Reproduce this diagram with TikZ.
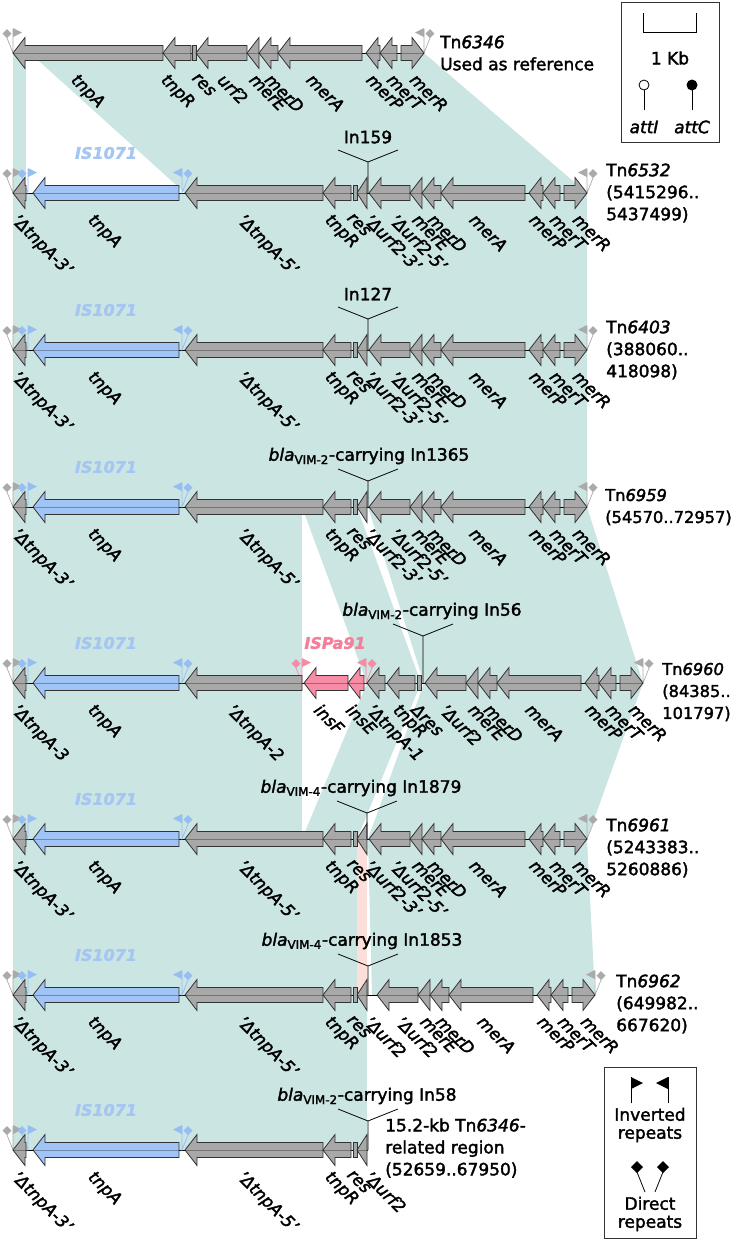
\documentclass[tikz,border=0pt]{standalone}
\usepackage{fontspec}
\setmainfont{DejaVu Sans}[FakeBold=2]
\usetikzlibrary{calc}

\definecolor{homol}{RGB}{203,229,227}
\definecolor{homolpink}{RGB}{252,222,218}
\definecolor{genegray}{RGB}{168,168,168}
\definecolor{geneblue}{RGB}{160,196,246}
\definecolor{genepink}{RGB}{246,140,166}
\definecolor{isblue}{RGB}{165,198,242}
\definecolor{ispink}{RGB}{242,128,155}
\definecolor{flaggray}{RGB}{170,170,170}
\definecolor{flagblue}{RGB}{150,190,242}
\definecolor{flagpink}{RGB}{244,140,165}

\tikzset{
  gene/.style={draw=black!80, line width=0.6pt},
  gray gene/.style={gene, fill=genegray},
  blue gene/.style={gene, fill=geneblue},
  pink gene/.style={gene, fill=genepink},
  midline/.style={black, opacity=0.3, line width=0.7pt},
  backbone/.style={black, line width=0.7pt},
  glab/.style={rotate=-45, anchor=north west, inner sep=0pt, font=\fontsize{12.5}{14}\selectfont\itshape},
  rlab/.style={anchor=west, align=left, inner sep=0pt, font=\fontsize{12.75}{16.5}\selectfont},
  inlab/.style={inner sep=0pt, align=center, font=\fontsize{12.75}{13.5}\selectfont},
  islab/.style={inner sep=0pt, font=\fontsize{12}{14}\selectfont\bfseries\itshape},
}

% [label shift] style, y, tail, tip, label
\newcommand{\gene}[6][0]{%
  \pgfmathsetmacro{\glen}{abs((#5)-(#4))}%
  \pgfmathsetmacro{\gneck}{(#5)-((#5)-(#4))/\glen*min(12,\glen)}%
  \draw[#2] ({#4},{#3-7.5}) -- (\gneck,{#3-7.5}) -- (\gneck,{#3-15.5}) -- ({#5},{#3})
    -- (\gneck,{#3+15.5}) -- (\gneck,{#3+7.5}) -- ({#4},{#3+7.5}) -- cycle;
  \draw[midline] ({#4},{#3}) -- ({#5},{#3});
  \node[glab] at ({((#4)+(#5))/2-4+(#1)},{#3+19}) {#6};
}
% [label shift] y, x, label
\newcommand{\resbox}[4][0]{%
  \draw[gray gene] ({#3-2},{#2-7.5}) rectangle ({#3+2},{#2+7.5});
  \node[glab] at ({#3-4+(#1)},{#2+19}) {#4};
}
% x, y, colour, 1 left end / -1 right end
\newcommand{\repflags}[4]{%
  \draw[#3, line width=0.5pt] ({#1},{#2-24}) -- ({#1},{#2}) -- ({#1-6*(#4)},{#2-15});
  \fill[#3] ({#1},{#2-25}) -- ({#1+9*(#4)},{#2-20.5}) -- ({#1},{#2-16}) -- cycle;
  \fill[#3] ({#1-6*(#4)},{#2-15}) -- ++(4.5,-4.5) -- ++(-4.5,-4.5) -- ++(-4.5,4.5) -- cycle;
}
% y, label of the short urf2 piece
\newcommand{\isrow}[2]{%
  \repflags{13}{#1}{flaggray}{1}
  \repflags{28}{#1}{flagblue}{1}
  \repflags{182}{#1}{flagblue}{-1}
  \gene[4]{gray gene}{#1}{26}{13}{'ΔtnpA-3'}
  \gene[-6]{blue gene}{#1}{179}{33}{tnpA}
  \gene[-5]{gray gene}{#1}{323}{185}{'ΔtnpA-5'}
  \gene{gray gene}{#1}{351}{323}{tnpR}
  \resbox[2]{#1}{355}{res}
  \gene[14]{gray gene}{#1}{367}{357}{#2}
  \node[islab, text=isblue] at (106,{#1-40}) {IS1071};
}
% y, shift
\newcommand{\merpart}[2]{%
  \gene[8]{gray gene}{#1}{422+(#2)}{410+(#2)}{merE}
  \gene[8]{gray gene}{#1}{441+(#2)}{422+(#2)}{merD}
  \gene[-2]{gray gene}{#1}{525+(#2)}{441+(#2)}{merA}
  \gene[5]{gray gene}{#1}{543+(#2)}{529+(#2)}{merP}
  \gene[10]{gray gene}{#1}{560+(#2)}{543+(#2)}{merT}
  \gene[9]{gray gene}{#1}{564+(#2)}{587+(#2)}{merR}
}
% name, x, y vertex, y row, label x, text
\newcommand{\integron}[6]{%
  \coordinate (#1v) at (#2,#3);
  \coordinate (#1b) at (#2,#4);
  \node[inlab] (#1) at ($(#5,#3)+(0,-25)$) {#6};
  \draw[line width=0.6pt] (#1b) -- (#1v) -- ++(-30,-12) (#1v) -- ++(30,-12);
}

\begin{document}
\begin{tikzpicture}[x=0.75pt,y=-0.75pt]
\useasboundingbox (0,0) rectangle (733,1240);

% 相同領域
\fill[homol] (13,53) -- (26,53) -- (26,193) -- (13,193) -- cycle;
\fill[homol] (30,53) -- (424,53) -- (587,193) -- (185,193) -- cycle;
\fill[homol] (13,193) rectangle (587,350);
\fill[homol] (13,350) rectangle (587,507);
\fill[homol] (13,507) rectangle (302,683);
\fill[homol] (302,507) -- (357,507) -- (421,683) -- (367,683) -- cycle;
\fill[homol] (368,507) -- (587,507) -- (643,683) -- (424,683) -- cycle;
\fill[homol] (13,683) rectangle (302,839);
\fill[homol] (367,683) -- (421,683) -- (357,839) -- (302,839) -- cycle;
\fill[homol] (424,683) -- (643,683) -- (587,839) -- (368,839) -- cycle;
\fill[homol] (13,839) rectangle (357,995);
\fill[homolpink] (357,839) rectangle (367,995);
\fill[homol] (368,839) -- (587,839) -- (595,995) -- (372,995) -- cycle;
\fill[homol] (13,995) rectangle (367,1150);

% Tn6346
\draw[backbone] (13,53) -- (424,53);
\repflags{13}{53}{flaggray}{1}
\repflags{424}{53}{flaggray}{-1}
\gene[-5]{gray gene}{53}{163}{13}{tnpA}
\gene[-4]{gray gene}{53}{191}{163}{tnpR}
\resbox[8]{53}{194}{res}
\gene[8]{gray gene}{53}{247}{196}{urf2}
\merpart{53}{-163}

% Tn6532, Tn6403, Tn6959, Tn6961
\foreach \y in {193,350,507,839}{
  \draw[backbone] (13,\y) -- (587,\y);
  \repflags{587}{\y}{flaggray}{-1}
  \isrow{\y}{'Δurf2-3'}
  \gene[12]{gray gene}{\y}{410}{369}{'Δurf2-5'}
  \merpart{\y}{0}
}

% Tn6960
\draw[backbone] (13,683) -- (643,683);
\repflags{13}{683}{flaggray}{1}
\repflags{643}{683}{flaggray}{-1}
\repflags{28}{683}{flagblue}{1}
\repflags{182}{683}{flagblue}{-1}
\repflags{302}{683}{flagpink}{1}
\repflags{366}{683}{flagpink}{-1}
\gene[4]{gray gene}{683}{26}{13}{'ΔtnpA-3}
\gene[-6]{blue gene}{683}{179}{33}{tnpA}
\gene[-5]{gray gene}{683}{302}{185}{'ΔtnpA-2}
\gene{pink gene}{683}{348}{304}{insF}
\gene[2]{pink gene}{683}{364}{348}{insE}
\gene[2]{gray gene}{683}{385}{367}{'ΔtnpA-1}
\gene[4]{gray gene}{683}{415}{387}{tnpR}
\resbox[4]{683}{419}{Δres}
\gene[6]{gray gene}{683}{466}{425}{'Δurf2}
\merpart{683}{56}
\node[islab, text=isblue] (is5) at (106,643) {IS1071};
\node[islab, text=ispink] (ispa) at (335,643) {ISPa91};

% Tn6962
\draw[backbone] (13,995) -- (595,995);
\repflags{595}{995}{flaggray}{-1}
\isrow{995}{'Δurf2}
\gene[10]{gray gene}{995}{418}{377}{'Δurf2}
\merpart{995}{8}

% 15.2-kb
\draw[backbone] (13,1150) -- (368,1150);
\isrow{1150}{'Δurf2}

% インテグロン
\integron{in2}{368}{162}{193}{368}{In159}
\integron{in3}{368}{319}{350}{368}{In127}
\integron{in4}{368}{481}{507}{369}{\textit{bla}\textsubscript{VIM-2}-carrying In1365}
\integron{in5}{423}{636}{683}{432}{\textit{bla}\textsubscript{VIM-2}-carrying In56}
\integron{in6}{367}{813}{839}{361}{\textit{bla}\textsubscript{VIM-4}-carrying In1879}
\integron{in7}{368}{966}{995}{362}{\textit{bla}\textsubscript{VIM-4}-carrying In1853}
\integron{in8}{368}{1121}{1150}{367}{\textit{bla}\textsubscript{VIM-2}-carrying In58}

% 名前
\node[rlab] (tn1) at (440,53) {Tn\textit{6346}\\Used as reference};
\node[rlab] (tn2) at (606,193) {Tn\textit{6532}\\(5415296..\\5437499)};
\node[rlab] (tn3) at (606,350) {Tn\textit{6403}\\(388060..\\418098)};
\node[rlab, font=\fontsize{12.2}{16.5}\selectfont] (tn4) at (605,507) {Tn\textit{6959}\\(54570..72957)};
\node[rlab, font=\fontsize{12.2}{16.5}\selectfont] (tn5) at (662,692) {Tn\textit{6960}\\(84385..\\101797)};
\node[rlab] (tn6) at (606,848) {Tn\textit{6961}\\(5243383..\\5260886)};
\node[rlab] (tn7) at (616,1004) {Tn\textit{6962}\\(649982..\\667620)};
\node[rlab] (tn8) at (385,1148) {15.2-kb Tn\textit{6346}-\\related region\\(52659..67950)};

% 凡例
\draw[line width=0.75pt, black!80] (621,2) rectangle (719,142);
\draw[line width=0.6pt] (643,13) -- (643,32) -- (696,32) -- (696,13);
\node[inlab] (kb) at (670,58) {1 Kb};
\draw[line width=0.6pt] (644,90) -- (644,110);
\draw[line width=0.6pt, fill=white] (644,85) circle[radius=5];
\draw[line width=0.6pt] (692,90) -- (692,110);
\fill (692,85) circle[radius=5.5];
\node[inlab] (atti) at (644,127) {\textit{attI}};
\node[inlab] (attc) at (692,127) {\textit{attC}};

\draw[line width=0.75pt, black!80] (604,1067) rectangle (696,1238);
\draw[line width=0.6pt] (631,1103) -- (631,1077);
\fill (631,1077) -- (643,1083) -- (631,1089) -- cycle;
\draw[line width=0.6pt] (668,1103) -- (668,1077);
\fill (668,1077) -- (656,1083) -- (668,1089) -- cycle;
\node[inlab] (ir) at (650,1125) {Inverted\\repeats};
\fill (637,1161) -- (643,1167) -- (637,1173) -- (631,1167) -- cycle;
\draw[line width=0.6pt] (637,1172) -- (645,1192);
\fill (663,1161) -- (669,1167) -- (663,1173) -- (657,1167) -- cycle;
\draw[line width=0.6pt] (663,1172) -- (655,1192);
\node[inlab] (dr) at (650,1214) {Direct\\repeats};
\end{tikzpicture}
\end{document}
